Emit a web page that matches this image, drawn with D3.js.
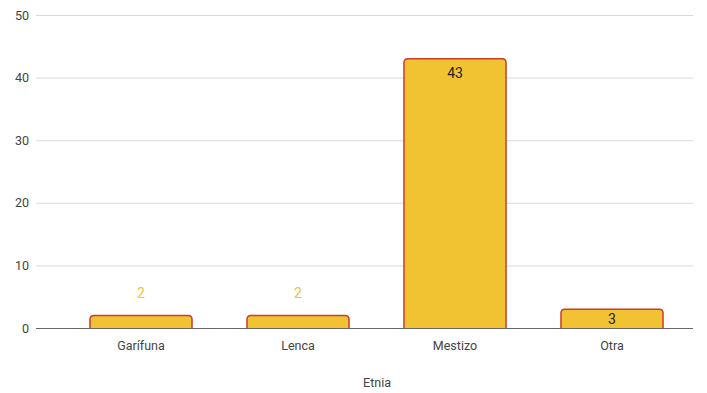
<!DOCTYPE html>
<html><head><meta charset="utf-8">
<script src="https://cdn.jsdelivr.net/npm/d3@7"></script>
<style>body{margin:0;background:#fff}svg{display:block;font-family:Roboto,Arial,sans-serif}</style>
</head><body><svg id="c" width="707" height="393"></svg>
<script>
const categories = ["Garífuna","Lenca","Mestizo","Otra"];
const values = [2,2,43,3];
const yTicks = [0,10,20,30,40,50];
const xTitle = "Etnia";

const svg = d3.select("#c");
const y = d3.scaleLinear().domain([0,50]).range([328,15]);
const x = d3.scaleBand().domain(categories).range([62.5,690.5]).paddingInner(0.35).paddingOuter(0.175);

svg.append("g").selectAll("line").data(yTicks.filter(d=>d>0)).join("line")
  .attr("x1",36).attr("x2",693).attr("y1",d=>y(d)+0.5).attr("y2",d=>y(d)+0.5)
  .attr("stroke","#d9d9d9").attr("stroke-width",1);

const yAxis = d3.axisLeft(y).tickValues(yTicks).tickSize(0).tickPadding(0);
const gy = svg.append("g").attr("transform","translate(29,0)").call(yAxis);
gy.select(".domain").remove();
gy.selectAll("text").attr("font-size",12.5).attr("fill","#444").attr("font-family","Roboto,Arial,sans-serif");

const r = 4;
function barPath(d,i){
  const x0 = x(categories[i]), w = x.bandwidth(), y0 = y(0), y1 = y(d);
  return `M${x0},${y0}V${y1+r}Q${x0},${y1} ${x0+r},${y1}H${x0+w-r}Q${x0+w},${y1} ${x0+w},${y1+r}V${y0}`;
}
svg.append("g").selectAll("path").data(values).join("path")
  .attr("d",barPath).attr("fill","#f1c232").attr("stroke","#cc3b2b").attr("stroke-width",1.5);

svg.append("line").attr("x1",36).attr("x2",693).attr("y1",y(0)+0.5).attr("y2",y(0)+0.5)
  .attr("stroke","#666").attr("stroke-width",1.2);

const inside = d => (y(0)-y(d))>15;
svg.append("g").selectAll("text").data(values).join("text")
  .attr("x",(d,i)=>x(categories[i])+x.bandwidth()/2)
  .attr("y",d=> inside(d) ? Math.min(y(d)+19,(y(d)+y(0))/2+5) : y(d)-17)
  .attr("text-anchor","middle").attr("font-size",14)
  .attr("fill",d=> inside(d) ? "#222" : "#f1c232")
  .text(d=>d);

const xAxis = d3.axisBottom(x).tickSize(0).tickPadding(0);
const gx = svg.append("g").attr("transform","translate(0,350)").call(xAxis);
gx.select(".domain").remove();
gx.selectAll("text").attr("font-size",12.5).attr("fill","#444").attr("dy",0).attr("font-family","Roboto,Arial,sans-serif");

svg.append("text").attr("x",377).attr("y",387).attr("text-anchor","middle")
  .attr("font-size",12.5).attr("fill","#444").text(xTitle);
</script></body></html>
